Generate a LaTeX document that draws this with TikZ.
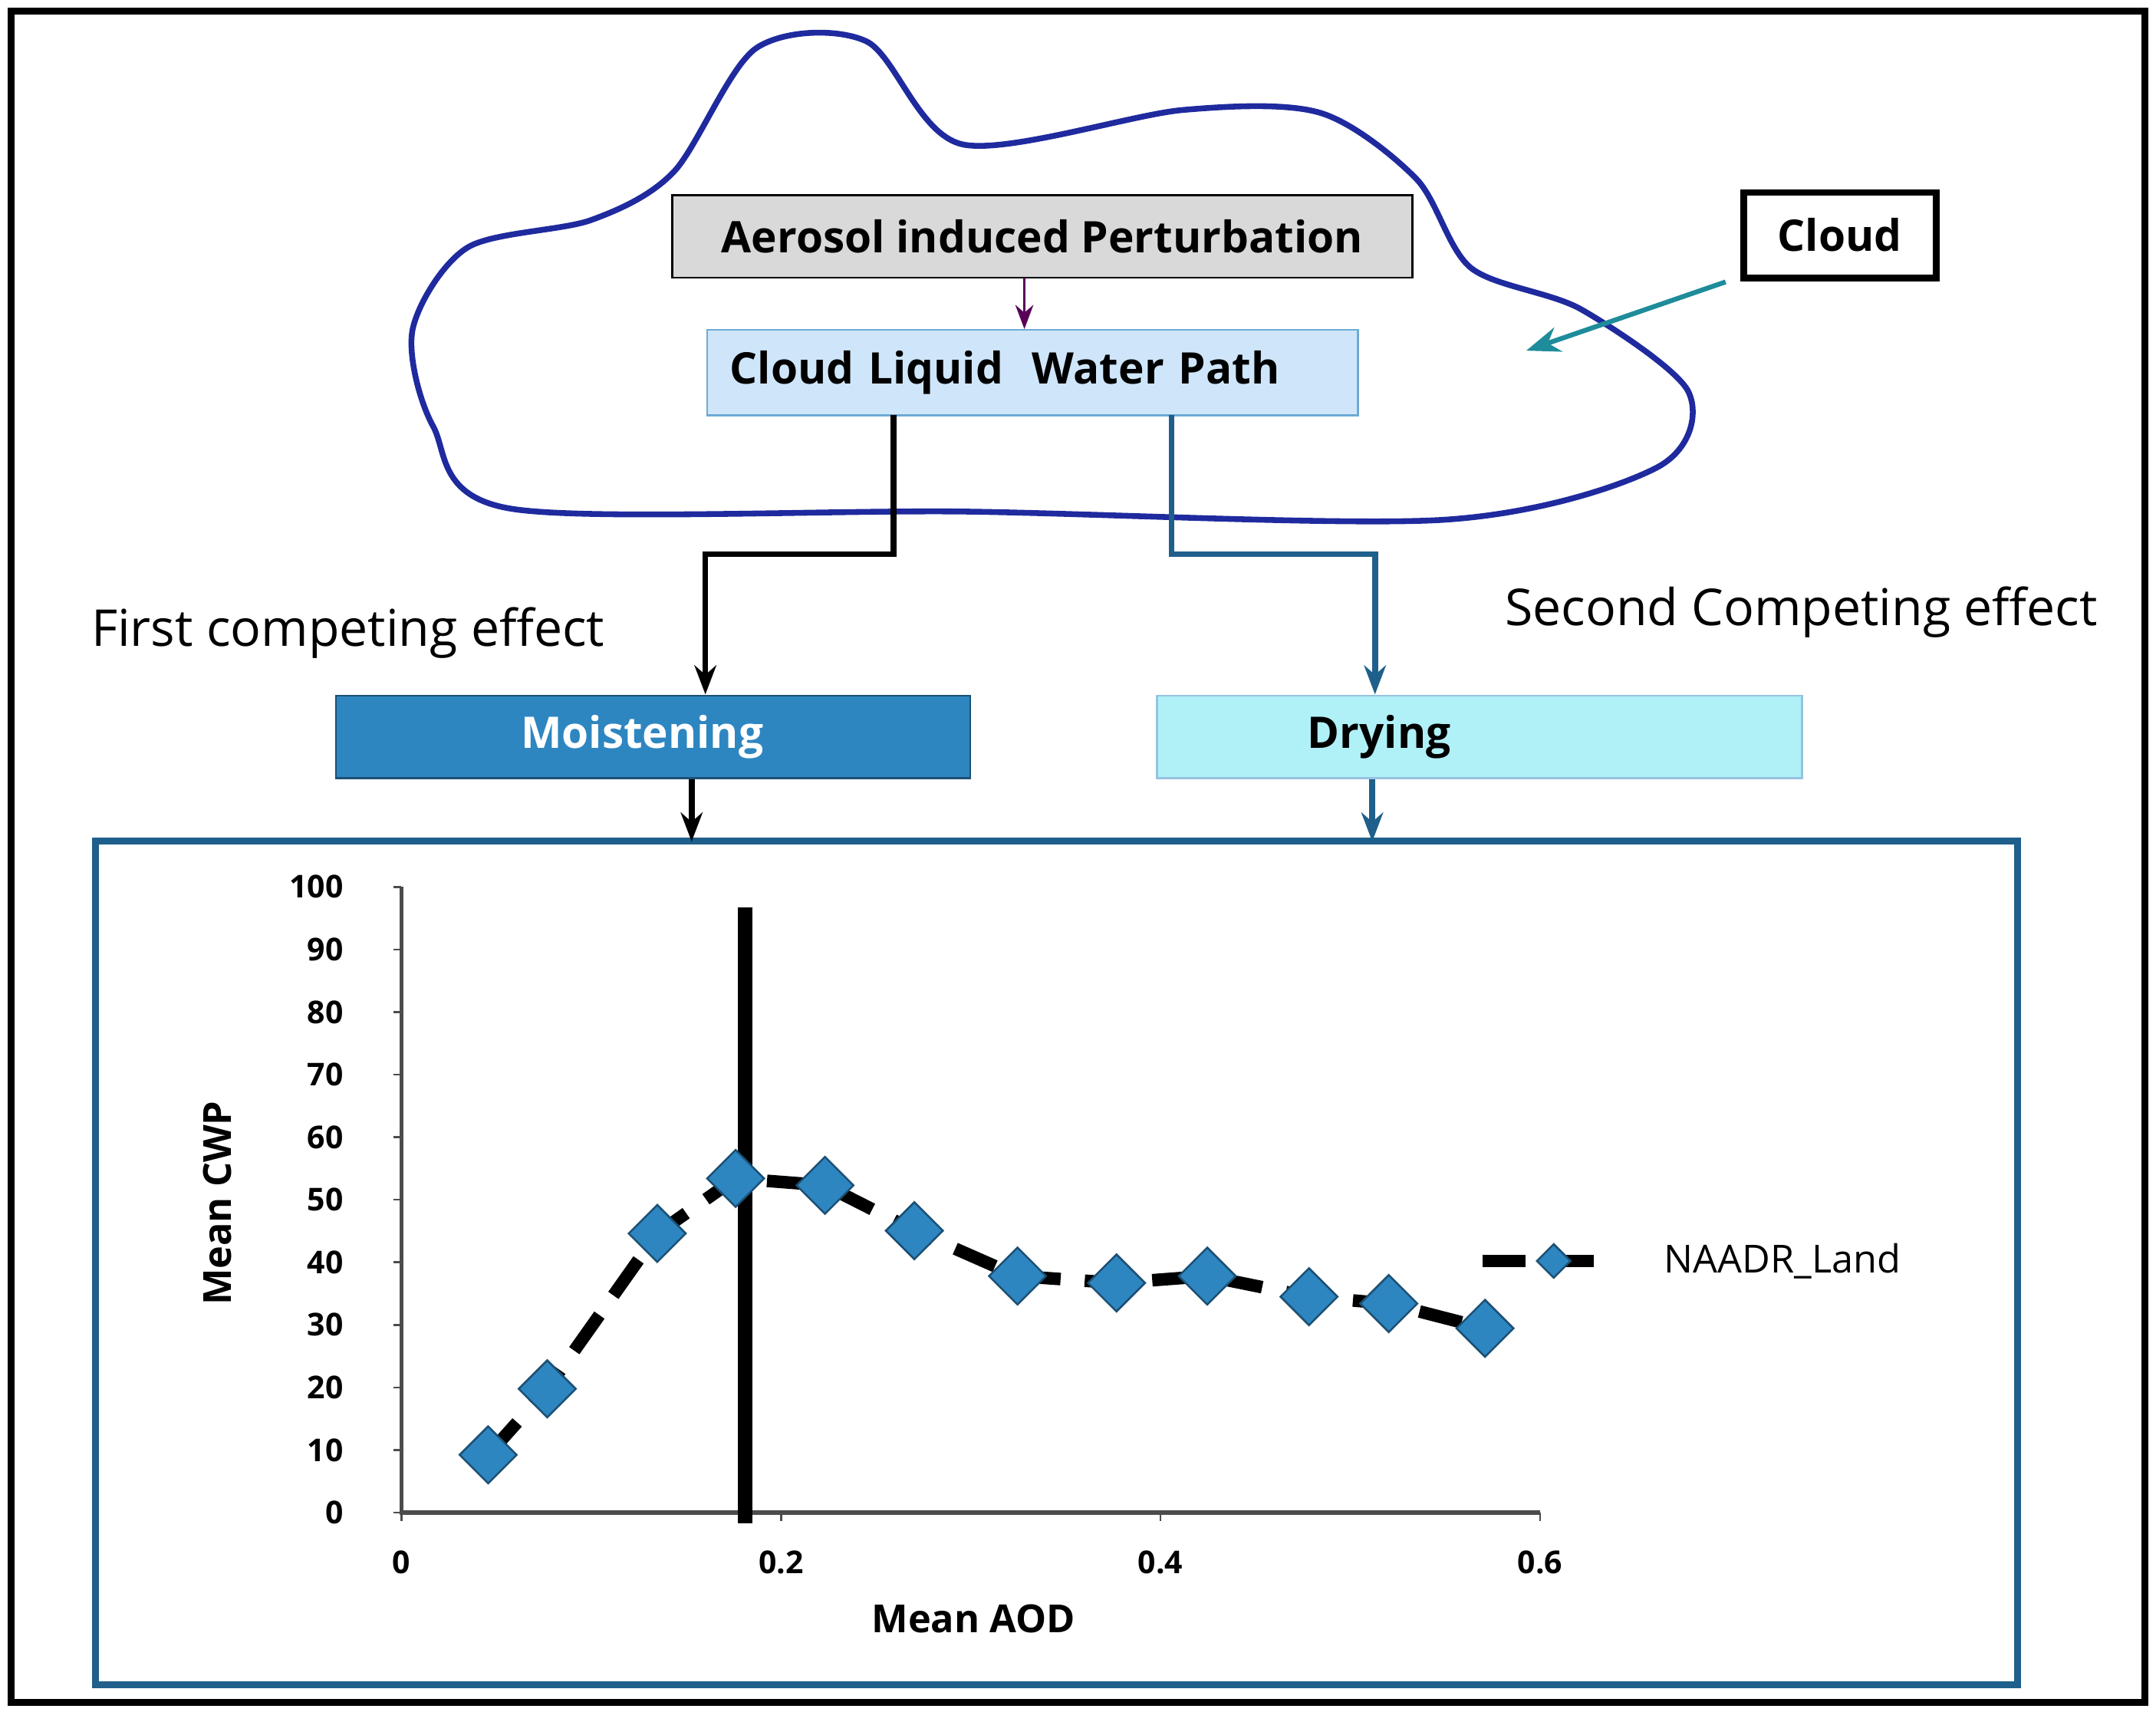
\documentclass[tikz,border=0pt]{standalone}
\usepackage{fontspec}
\setmainfont{Open Sans}
\usetikzlibrary{arrows.meta,shapes.geometric}
\definecolor{cloudblue}{HTML}{1F2A9E}
\definecolor{lwp}{HTML}{CFE6FA}
\definecolor{moist}{HTML}{2E86C1}
\definecolor{dry}{HTML}{B0F0F7}
\definecolor{teal}{HTML}{1E8C9A}
\definecolor{conn}{HTML}{1F5F8B}
\begin{document}
\begin{tikzpicture}[x=0.01cm,y=-0.01cm,
  box/.style={draw,minimum height=0.6cm,font=\bfseries\fontsize{9}{10}\selectfont,inner sep=0pt},
  tick/.style={font=\bfseries\fontsize{6.5}{7}\selectfont},
  dia/.style={diamond,fill=moist,draw=moist!60!black,minimum size=0.42cm,inner sep=0pt}]
\useasboundingbox (0,0) rectangle (1568,1245);
\draw[line width=1.4pt] (8,8) rectangle (1560,1238);
% cloud
\draw[cloudblue,line width=1.2pt] plot[smooth cycle,tension=0.5] coordinates{
 (372,370) (315,310) (300,240) (340,180) (430,160) (490,125) (550,35) (630,30) (700,105)
 (860,80) (960,82) (1030,130) (1070,195) (1150,225) (1228,285) (1205,340) (1050,378) (700,372)};
\node[box,fill=gray!30,minimum width=5.38cm,minimum height=0.6cm] (aip) at (758,172) {Aerosol induced Perturbation};
\node[box,draw=moist!70,fill=lwp,minimum width=4.73cm,minimum height=0.62cm,text width=4.4cm,align=left] (clwp) at (751,271) {Cloud Liquid\ \ Water Path};
\draw[-{Stealth[length=5pt]},violet!70!black] (745,202) -- (clwp.north-|745,0);
\node[box,line width=1.4pt,minimum width=1.4cm,minimum height=0.62cm] (cl) at (1338,171) {Cloud};
\coordinate (ct) at (1110,255);
\draw[-{Stealth[length=7pt]},teal,line width=1pt] (1255,205) -- (ct);
\node[box,draw=moist!60!black,fill=moist,minimum width=4.61cm] (mo) at (475,536) {};
\node[font=\bfseries\fontsize{9}{10}\selectfont,text=white] at (467,536) {Moistening};
\node[box,draw=moist!50,fill=dry,minimum width=4.69cm] (dr) at (1076,536) {};
\node[font=\bfseries\fontsize{9}{10}\selectfont] at (1003,536) {Drying};
\draw[-{Stealth[length=6pt]},line width=1.2pt] (650,302) -- (650,403) -- (513,403) -- (513,505);
\draw[-{Stealth[length=6pt]},conn,line width=1.2pt] (852,302) -- (852,403) -- (1000,403) -- (1000,505);
\node[font=\fontsize{10.5}{11}\selectfont] (f1) at (253,460) {First competing effect};
\node[font=\fontsize{10.5}{11}\selectfont] (f2) at (1310,445) {Second Competing effect};
\node[draw=conn,line width=1.4pt,minimum width=13.97cm,minimum height=6.13cm] (pb) at (768.5,918.5) {};
\draw[-{Stealth[length=6pt]},line width=1.2pt] (503,567) -- (503,612);
\draw[-{Stealth[length=6pt]},conn,line width=1.2pt] (998,567) -- (998,612);
% axes
\draw[gray!60!black,line width=0.8pt] (292,645) -- (292,1100) -- (1120,1100);
\foreach \v in {0,10,...,100}{
  \draw[gray!60!black] (286,{1100-4.55*\v}) -- (292,{1100-4.55*\v});
  \node[tick,anchor=east] at (262,{1100-4.55*\v}) {\v};}
\foreach \v/\l in {0/0,0.2/0.2,0.4/0.4,0.6/0.6}{
  \draw[gray!60!black] ({292+1380*\v},1100) -- ({292+1380*\v},1106);
  \node[tick] at ({292+1380*\v},1136) {\l};}
\node[tick,rotate=90,font=\bfseries\fontsize{8}{8}\selectfont] at (158,875) {Mean CWP};
\node[tick,font=\bfseries\fontsize{8}{8}\selectfont] at (708,1177) {Mean AOD};
\draw[line width=3pt] (542,660) -- (542,1108);
\draw[line width=2.6pt,dash pattern=on 9pt off 5pt] plot coordinates{(355,1058) (398,1010) (478,897) (535,857) (600,862) (665,895) (740,928) (812,933) (878,928) (952,943) (1010,948) (1080,966)};
\foreach \x/\y in {355/1058,398/1010,478/897,535/857,600/862,665/895,740/928,812/933,878/928,952/943,1010/948,1080/966}
  \node[dia] at (\x,\y) {};
\draw[line width=2.6pt,dash pattern=on 9pt off 5pt] (1078,917) -- (1175,917);
\node[dia,minimum size=0.25cm] at (1130,917) {};
\node[anchor=west,font=\fontsize{8}{8}\selectfont] at (1198,917) {NAADR\_Land};
\end{tikzpicture}
\end{document}
